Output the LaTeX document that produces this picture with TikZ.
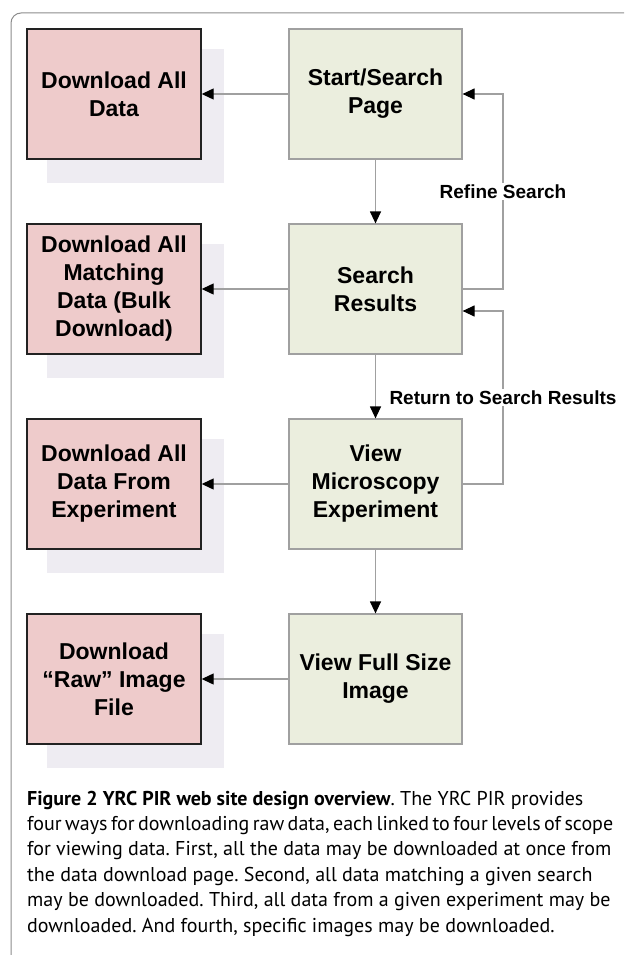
\documentclass[tikz,border=0pt]{standalone}
\usepackage{fontspec}
\setmainfont{Liberation Sans}
\newfontfamily\capfont{PT Sans}
\usetikzlibrary{arrows.meta,backgrounds}
\definecolor{pinkfill}{HTML}{EECBCB}
\definecolor{greenfill}{HTML}{EBEEDE}
\definecolor{shadowc}{HTML}{EEECF2}
\definecolor{linec}{HTML}{A0A0A0}
\definecolor{framec}{HTML}{8C8C8C}
\definecolor{pinkborder}{HTML}{222222}
\frenchspacing
\begin{document}
\begin{tikzpicture}[x=1pt,y=-1pt,
  dlbox/.style={draw=pinkborder, line width=1.4pt, fill=pinkfill, minimum width=174pt, minimum height=130pt, inner sep=0pt, align=center, font=\fontsize{23}{28}\selectfont\bfseries},
  viewbox/.style={draw=linec, line width=1.2pt, fill=greenfill, minimum width=173pt, minimum height=130pt, inner sep=0pt, align=center, font=\fontsize{23}{28}\selectfont\bfseries},
  conn/.style={draw=linec, line width=1.2pt, -{Triangle[length=12pt,width=11pt,black]}},
  lbl/.style={fill=white, inner sep=2pt, font=\fontsize{19}{22}\selectfont\bfseries},
  capline/.style={anchor=base west, inner sep=0pt, font=\capfont\fontsize{20}{25}\selectfont},
]
\useasboundingbox (0,0) rectangle (624,955);
\clip (0,0) rectangle (624,955);
\draw[framec, line width=1pt, rounded corners=10pt] (11,13) rectangle (660,965);

\node[dlbox] (d1) at (114,94) {Download All\\Data};
\node[dlbox] (d2) at (114,289) {Download All\\Matching\\Data (Bulk\\Download)};
\node[dlbox] (d3) at (114,484) {Download All\\Data From\\Experiment};
\node[dlbox] (d4) at (114,679) {Download\\“Raw” Image\\File};
\node[viewbox] (v1) at (375.5,94) {Start/Search\\Page};
\node[viewbox] (v2) at (375.5,289) {Search\\Results};
\node[viewbox] (v3) at (375.5,484) {View\\Microscopy\\Experiment};
\node[viewbox] (v4) at (375.5,679) {View Full Size\\Image};

\begin{scope}[on background layer]
\foreach \n in {d1,d2,d3,d4}
  \fill[shadowc] ([shift={(21,21)}]\n.north west) rectangle ([shift={(22,23)}]\n.south east);
\end{scope}

\draw[conn] (v1) -- (d1);
\draw[conn] (v1) -- (v2);
\draw[conn] (v2) -- (d2);
\draw[conn] (v2) -- (v3);
\draw[conn] (v3) -- (d3);
\draw[conn] (v3) -- (v4);
\draw[conn] (v4) -- (d4);

\coordinate (rf) at (503,94);
\coordinate (rt) at (503,311);
\draw[conn] (v2.east) -| node[lbl, pos=0.75] (lrefine) {Refine Search} (rf) -- (v1.east);
\draw[conn] (v3.east) -| node[lbl, pos=0.75] (lreturn) {Return to Search Results} (rt) -- (rt -| v2.east);

\node[capline] (c1) at (27,805) {\textbf{Figure 2 YRC PIR web site design overview}. The YRC PIR provides};
\node[capline] (c2) at (27,830.4) {\makebox[586pt][s]{\spaceskip=0.1em plus 0.3em minus 0.05em four ways for downloading raw data, each linked to four levels of scope}};
\node[capline] (c3) at (27,855.8) {for viewing data. First, all the data may be downloaded at once from};
\node[capline] (c4) at (27,881.2) {the data download page. Second, all data matching a given search};
\node[capline] (c5) at (27,906.6) {may be downloaded. Third, all data from a given experiment may be};
\node[capline] (c6) at (27,932) {downloaded. And fourth, specific images may be downloaded.};
\end{tikzpicture}
\end{document}
